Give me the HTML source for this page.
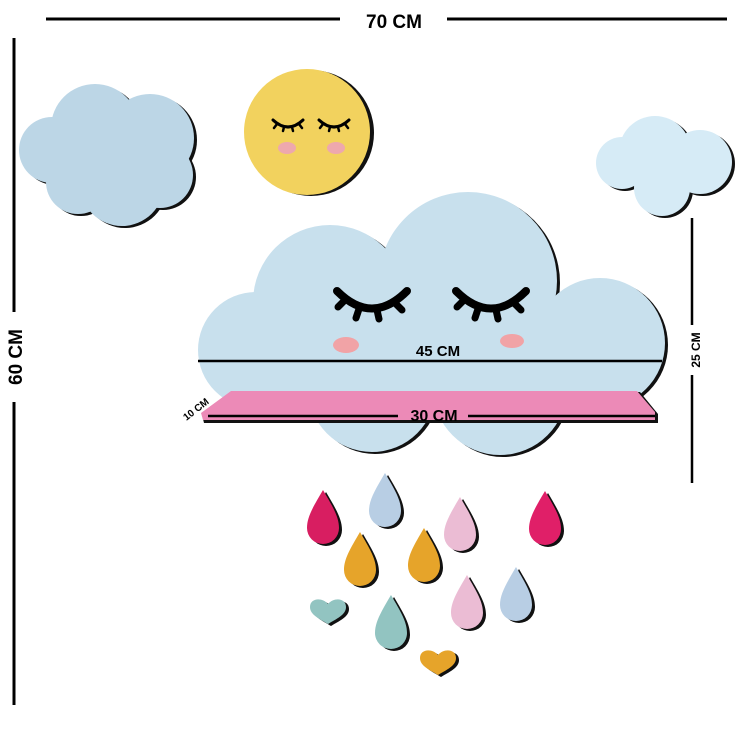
<!DOCTYPE html>
<html><head><meta charset="utf-8"><style>html,body{margin:0;padding:0;background:#fff}svg{display:block}</style></head>
<body>
<svg width="750" height="750" viewBox="0 0 750 750" xmlns="http://www.w3.org/2000/svg" font-family="Liberation Sans, sans-serif" font-weight="bold">
<defs>
<g id="drop"><path d="M0 0 C10 17 16 27 16 38 A16 16 0 0 1 -16 38 C-16 27 -10 17 0 0Z"/></g>
<g id="heart"><path d="M0 15 C-8 10 -18 6 -18 -2 C-18 -11 -6 -12 0 -5 C6 -12 18 -11 18 -2 C18 6 8 10 0 15Z"/></g>
<g id="bigcloud">
<circle cx="256" cy="350" r="58"/>
<circle cx="330" cy="302" r="77"/>
<circle cx="468" cy="281" r="89"/>
<circle cx="600" cy="343" r="65"/>
<circle cx="372" cy="388" r="64"/>
<circle cx="500" cy="388" r="67"/>
<rect x="240" y="300" width="365" height="120"/>
</g>
<g id="lcloud">
<circle cx="95" cy="128" r="44"/><circle cx="150" cy="138" r="44"/><circle cx="52" cy="150" r="33"/>
<circle cx="122" cy="184" r="42"/><circle cx="160" cy="175" r="33"/><circle cx="78" cy="182" r="32"/>
</g>
<g id="rcloud">
<circle cx="655" cy="152" r="36"/><circle cx="700" cy="162" r="32"/><circle cx="622" cy="163" r="26"/><circle cx="662" cy="188" r="28"/>
</g>
<g id="eyeL" fill="none" stroke="#000" stroke-linecap="round">
<path d="M0 0 Q35 35 70 0" stroke-width="8"/>
<path d="M8 9 L1 16 M22 18 L19 27 M40 19 L42 28 M58 12 L65 19" stroke-width="7"/>
</g>
<g id="eyeS" fill="none" stroke="#000" stroke-linecap="round">
<path d="M0 0 Q15 14 30 0" stroke-width="3"/>
<path d="M4 4 L1 8 M11 7 L10 11 M19 7 L20 11 M26 4 L29 8" stroke-width="2.5"/>
</g>
</defs>

<line x1="46" y1="19" x2="340" y2="19" stroke="#000" stroke-width="3"/>
<line x1="447" y1="19" x2="727" y2="19" stroke="#000" stroke-width="3"/>
<text x="394" y="28" font-size="19" text-anchor="middle">70 CM</text>
<line x1="14" y1="38" x2="14" y2="312" stroke="#000" stroke-width="3"/>
<line x1="14" y1="402" x2="14" y2="705" stroke="#000" stroke-width="3"/>
<text transform="translate(22,357) rotate(-90)" font-size="19" text-anchor="middle">60 CM</text>
<line x1="692" y1="218" x2="692" y2="325" stroke="#000" stroke-width="2.5"/>
<line x1="692" y1="375" x2="692" y2="483" stroke="#000" stroke-width="2.5"/>
<text transform="translate(700,350) rotate(-90)" font-size="12" text-anchor="middle">25 CM</text>

<use href="#lcloud" fill="#111" transform="translate(3,2)"/>
<use href="#lcloud" fill="#bcd6e6"/>
<use href="#rcloud" fill="#111" transform="translate(3,2)"/>
<use href="#rcloud" fill="#d6ebf6"/>
<circle cx="311" cy="133" r="63" fill="#111"/>
<circle cx="307" cy="132" r="63" fill="#f2d25e"/>
<use href="#eyeS" transform="translate(273,120)"/>
<use href="#eyeS" transform="translate(319,120)"/>
<ellipse cx="287" cy="148" rx="9" ry="6" fill="#eea8ad"/>
<ellipse cx="336" cy="148" rx="9" ry="6" fill="#eea8ad"/>

<use href="#bigcloud" fill="#111" transform="translate(3,2)"/>
<use href="#bigcloud" fill="#c8e0ed"/>
<use href="#eyeL" transform="translate(337,291)"/>
<use href="#eyeL" transform="translate(456,291)"/>
<ellipse cx="346" cy="345" rx="13" ry="8" fill="#f1a3a6"/>
<ellipse cx="512" cy="341" rx="12" ry="7" fill="#f1a3a6"/>
<line x1="198" y1="361" x2="662" y2="361" stroke="#000" stroke-width="2.5"/>
<text x="438" y="356" font-size="15" text-anchor="middle">45 CM</text>
<polygon points="232,392 640,392 658,414 658,423 204,423 202,415" fill="#111"/>
<polygon points="231,391 637,391 655,412 655,420 203,420 201,413" fill="#ec8ab7"/>
<line x1="208" y1="416" x2="398" y2="416" stroke="#000" stroke-width="2.5"/>
<line x1="468" y1="416" x2="655" y2="416" stroke="#000" stroke-width="2.5"/>
<text x="434" y="421" font-size="16" text-anchor="middle">30 CM</text>
<text transform="translate(198,412) rotate(-38)" font-size="10" text-anchor="middle">10 CM</text>

<g>
<use href="#drop" transform="translate(326,492)" fill="#111"/><use href="#drop" transform="translate(323,490)" fill="#d81e61"/>
<use href="#drop" transform="translate(388,475)" fill="#111"/><use href="#drop" transform="translate(385,473)" fill="#b8cee4"/>
<use href="#drop" transform="translate(463,499)" fill="#111"/><use href="#drop" transform="translate(460,497)" fill="#ebbcd4"/>
<use href="#drop" transform="translate(548,493)" fill="#111"/><use href="#drop" transform="translate(545,491)" fill="#e01f68"/>
<use href="#drop" transform="translate(363,534)" fill="#111"/><use href="#drop" transform="translate(360,532)" fill="#e6a42a"/>
<use href="#drop" transform="translate(427,530)" fill="#111"/><use href="#drop" transform="translate(424,528)" fill="#e6a42a"/>
<use href="#drop" transform="translate(470,577)" fill="#111"/><use href="#drop" transform="translate(467,575)" fill="#ebbcd4"/>
<use href="#drop" transform="translate(519,569)" fill="#111"/><use href="#drop" transform="translate(516,567)" fill="#b8cee4"/>
<use href="#drop" transform="translate(394,597)" fill="#111"/><use href="#drop" transform="translate(391,595)" fill="#92c4c1"/>
<use href="#heart" transform="translate(331,611)" fill="#111"/><use href="#heart" transform="translate(328,609)" fill="#92c4c1"/>
<use href="#heart" transform="translate(441,662)" fill="#111"/><use href="#heart" transform="translate(438,660)" fill="#e6a42a"/>
</g>
</svg>
</body></html>
